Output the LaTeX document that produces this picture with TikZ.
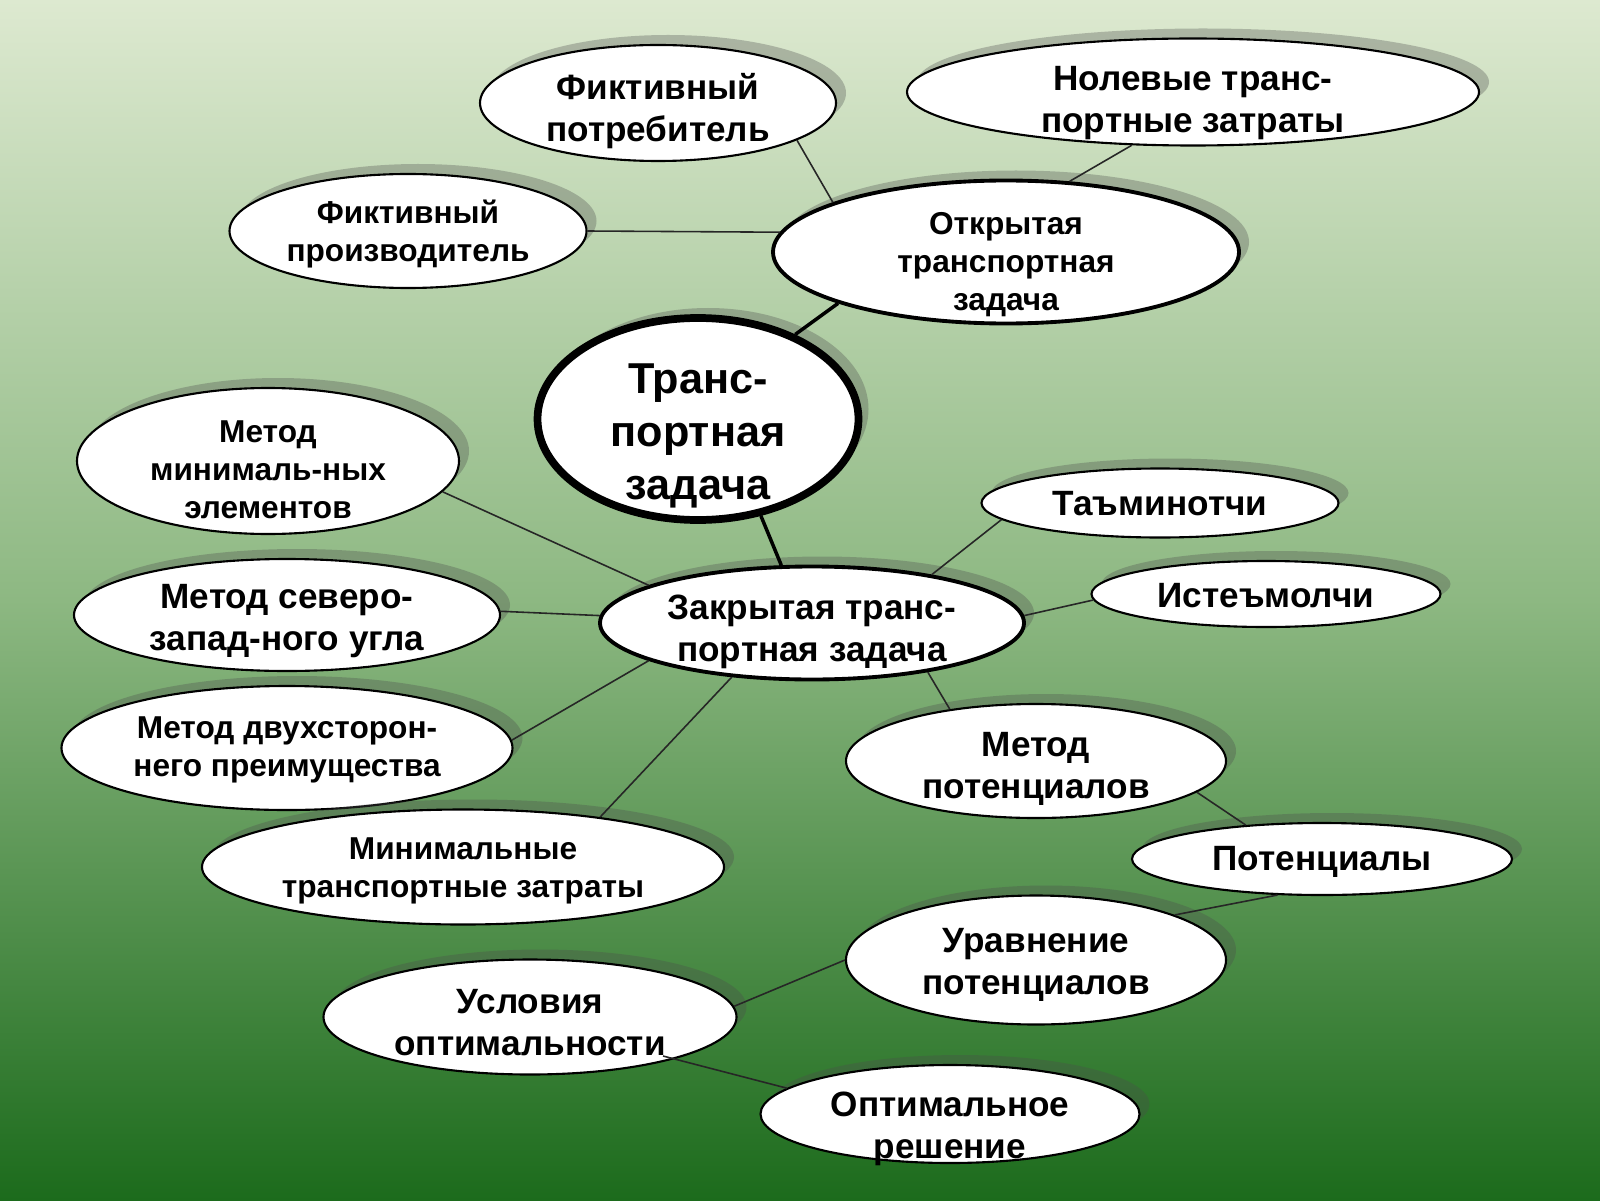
\documentclass[tikz,border=0pt]{standalone}
\usepackage{fontspec}
\setmainfont{Liberation Sans}
\usepackage{tikz}
\usetikzlibrary{shapes.geometric,shadows}
\definecolor{bgtop}{HTML}{DDE9D0}
\definecolor{bgmid}{HTML}{8DB882}
\definecolor{bgbot}{HTML}{1C6B1C}

\tikzset{
  bub/.style={ellipse, draw=black, line width=0.6pt, fill=white, inner sep=0pt,
    drop shadow={shadow xshift=0.1cm, shadow yshift=0.1cm, fill=black!70, opacity=0.32}},
  smalltext/.style={align=center, inner sep=0pt, font=\fontsize{9}{10.8}\selectfont\bfseries},
  midtext/.style={align=center, inner sep=0pt, font=\fontsize{10}{12}\selectfont\bfseries},
  bigtext/.style={align=center, inner sep=0pt, font=\fontsize{12.3}{15}\selectfont\bfseries},
  link/.style={draw=black!85, line width=0.45pt},
  thicklink/.style={draw=black, line width=1pt}
}

\begin{document}
\begin{tikzpicture}
  % Background
  \shade[top color=bgtop, bottom color=bgbot, middle color=bgmid] (0,0) rectangle (16,12);
  \useasboundingbox (0,0) rectangle (16,12);

  % Open problem branch
  \node[bub, minimum width=3.56cm, minimum height=1.16cm,
    label={[midtext, yshift=-0.08cm]center:Фиктивный\\потребитель}] (potr) at (6.58,10.97) {};
  \node[bub, minimum width=5.72cm, minimum height=1.07cm,
    label={[midtext, yshift=-0.11cm]center:Нолевые транс-\\портные затраты}] (nol) at (11.93,11.08) {};
  \node[bub, minimum width=3.57cm, minimum height=1.14cm,
    label={[smalltext, yshift=-0.03cm]center:Фиктивный\\производитель}] (proiz) at (4.08,9.69) {};
  \node[bub, line width=1.1pt, minimum width=4.66cm, minimum height=1.43cm,
    label={[smalltext, yshift=-0.13cm]center:Открытая\\транспортная\\задача}] (otkr) at (10.06,9.48) {};

  % Main node
  \node[bub, line width=2.2pt, minimum width=3.21cm, minimum height=2.02cm,
    label={[bigtext, yshift=-0.17cm]center:Транс-\\портная\\задача}] (mid) at (6.98,7.81) {};

  % Closed problem branch
  \node[bub, minimum width=3.82cm, minimum height=1.46cm,
    label={[smalltext, yshift=-0.09cm]center:Метод\\минималь-ных\\элементов}] (minel) at (2.68,7.39) {};
  \node[bub, minimum width=3.57cm, minimum height=0.69cm,
    label={[midtext, yshift=-0.01cm]center:Таъминотчи}] (tamin) at (11.60,6.97) {};
  \node[bub, minimum width=4.26cm, minimum height=1.12cm,
    label={[midtext, yshift=-0.06cm]center:Метод северо-\\запад-ного угла}] (sevzap) at (2.87,5.85) {};
  \node[bub, line width=1.1pt, minimum width=4.24cm, minimum height=1.13cm,
    label={[midtext, yshift=-0.09cm]center:Закрытая транс-\\портная задача}] (zakr) at (8.12,5.77) {};
  \node[bub, minimum width=3.49cm, minimum height=0.66cm,
    label={[midtext, yshift=-0.02cm]center:Истеъмолчи}] (istem) at (12.66,6.06) {};
  \node[bub, minimum width=4.51cm, minimum height=1.24cm,
    label={[smalltext, yshift=-0.015cm]center:Метод двухсторон-\\него преимущества}] (dvuh) at (2.87,4.52) {};
  \node[bub, minimum width=3.80cm, minimum height=1.14cm,
    label={[midtext, yshift=-0.08cm]center:Метод\\потенциалов}] (metpot) at (10.36,4.39) {};
  \node[bub, minimum width=5.22cm, minimum height=1.15cm,
    label={[smalltext, yshift=-0.04cm]center:Минимальные\\транспортные затраты}] (minzat) at (4.63,3.33) {};
  \node[bub, minimum width=3.80cm, minimum height=0.72cm,
    label={[midtext, yshift=-0.03cm]center:Потенциалы}] (pot) at (13.22,3.41) {};
  \node[bub, minimum width=3.80cm, minimum height=1.29cm,
    label={[midtext, yshift=-0.045cm]center:Уравнение\\потенциалов}] (uravn) at (10.36,2.40) {};
  \node[bub, minimum width=4.13cm, minimum height=1.15cm,
    label={[midtext, yshift=-0.055cm]center:Условия\\оптимальности}] (usl) at (5.30,1.83) {};
  \node[bub, minimum width=3.79cm, minimum height=0.98cm,
    label={[midtext, yshift=-0.15cm]center:Оптимальное\\решение}] (opt) at (9.50,0.86) {};
  \coordinate (uslend) at (6.63,1.44);

  % Connectors
  \draw[thicklink] (mid.41) -- (otkr.197);
  \draw[thicklink] (mid.-57) -- (zakr.118);
  \draw[link] (potr.-15) -- (otkr.164);
  \draw[link] (nol.221) -- (otkr.48);
  \draw[link] (proiz.0) -- (otkr.175);
  \draw[link] (minel.-10) -- (zakr.167);
  \draw[link] (sevzap.1) -- (zakr.178);
  \draw[link] (dvuh.2) -- (zakr.193);
  \draw[link] (minzat.20) -- (zakr.214);
  \draw[link] (tamin.186) -- (zakr.22);
  \draw[link] (istem.182) -- (zakr.2);
  \draw[link] (zakr.-23) -- (metpot.149);
  \draw[link] (metpot.-11) -- (pot.156);
  \draw[link] (pot.219) -- (uravn.18);
  \draw[link] (uravn.180) -- (usl.3);
  \draw[link] (uslend) -- (opt.171);
\end{tikzpicture}
\end{document}
